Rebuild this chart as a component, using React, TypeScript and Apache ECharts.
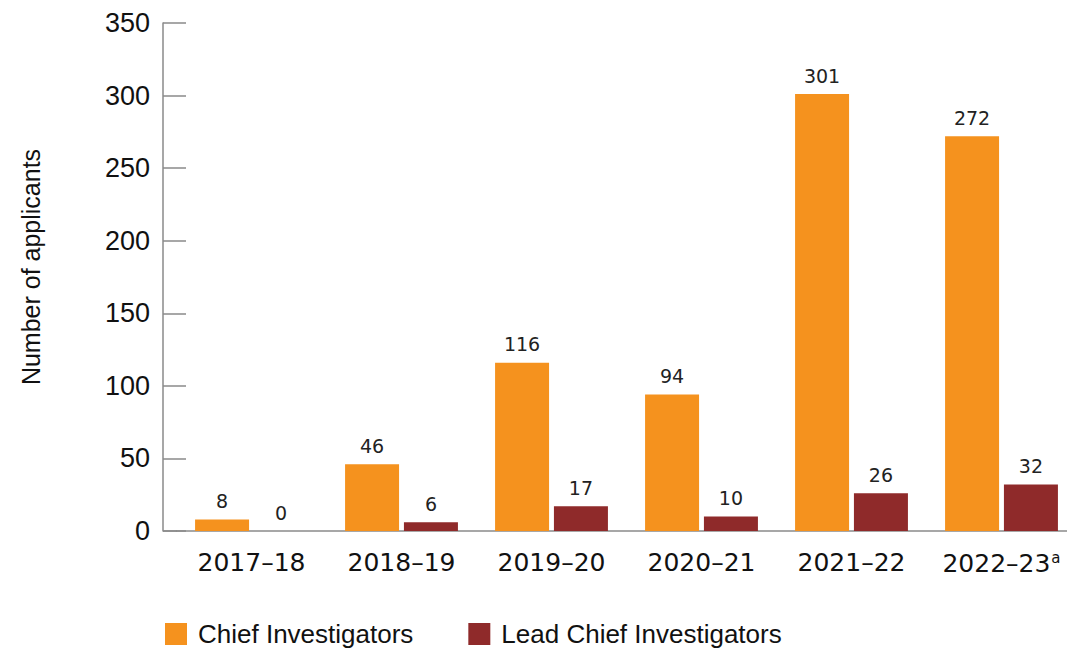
import React, { useEffect, useRef } from "react";
import * as echarts from "echarts";

const categories = ["2017–18", "2018–19", "2019–20", "2020–21", "2021–22", "2022–23"];
const chiefInvestigators = [8, 46, 116, 94, 301, 272];
const leadChiefInvestigators = [0, 6, 17, 10, 26, 32];
const yTicks = { min: 0, max: 350, interval: 50 };
const seriesNames = ["Chief Investigators", "Lead Chief Investigators"];
const axisTitle = "Number of applicants";
const FONT = "'Liberation Sans', Arial, sans-serif";
const FONT2 = "'DejaVu Sans', sans-serif";

export default function App() {
  const ref = useRef<HTMLDivElement>(null);
  useEffect(() => {
    if (!ref.current) return;
    const chart = echarts.init(ref.current, undefined, { renderer: "svg" });
    chart.setOption({
      animation: false,
      textStyle: { fontFamily: FONT },
      grid: { left: 176.5, top: 23, width: 900, height: 508, containLabel: false, outerBoundsMode: "none" },
      legend: {
        left: 160,
        top: 616,
        itemWidth: 22,
        itemHeight: 22,
        itemGap: 55,
        icon: "rect",
        textStyle: { fontSize: 26, color: "#111", fontFamily: FONT, padding: [0, 0, 0, 6] },
        data: seriesNames,
      },
      xAxis: {
        type: "category",
        data: categories,
        axisLine: { lineStyle: { color: "#8a8a8a", width: 1.5 } },
        axisTick: { show: false },
        axisLabel: {
          interval: 0,
          fontSize: 25,
          fontFamily: FONT2,
          color: "#111",
          margin: 19,
          formatter: (v: string) => (v === "2022–23" ? v + "{sup|a}" : v),
          rich: { sup: { fontSize: 15, fontFamily: FONT2, verticalAlign: "top", padding: [0, 0, 12, 1], color: "#111" } },
        },
      },
      yAxis: {
        type: "value",
        min: yTicks.min,
        max: yTicks.max,
        interval: yTicks.interval,
        offset: 13.5,
        axisLine: { show: true, lineStyle: { color: "#8a8a8a", width: 1.5 } },
        axisTick: { show: true, inside: true, length: 23, lineStyle: { color: "#8a8a8a", width: 1.5 } },
        splitLine: { show: false },
        axisLabel: { fontSize: 27, color: "#111", margin: 13 },
      },
      graphic: [
        {
          type: "line",
          shape: { x1: 163, y1: 531, x2: 177, y2: 531 },
          style: { stroke: "#8a8a8a", lineWidth: 1.5 },
        },
        {
          type: "text",
          x: 31,
          y: 267,
          rotation: Math.PI / 2,
          style: {
            text: axisTitle,
            fontSize: 25,
            fontFamily: FONT,
            fill: "#111",
            align: "center",
            verticalAlign: "middle",
          },
        },
      ],
      series: [
        {
          name: seriesNames[0],
          type: "bar",
          data: chiefInvestigators,
          barWidth: 54,
          barGap: "9%",
          itemStyle: { color: "#F5921E" },
          label: { show: true, position: "top", distance: 9, fontSize: 19, fontFamily: FONT2, color: "#222" },
        },
        {
          name: seriesNames[1],
          type: "bar",
          data: leadChiefInvestigators,
          barWidth: 54,
          itemStyle: { color: "#8F2A2A" },
          label: { show: true, position: "top", distance: 9, fontSize: 19, fontFamily: FONT2, color: "#222" },
        },
      ],
    });
    return () => chart.dispose();
  }, []);
  return (
    <div
      ref={ref}
      style={{ position: "fixed", left: 0, top: 0, width: 1067, height: 649, background: "#fff" }}
    />
  );
}
